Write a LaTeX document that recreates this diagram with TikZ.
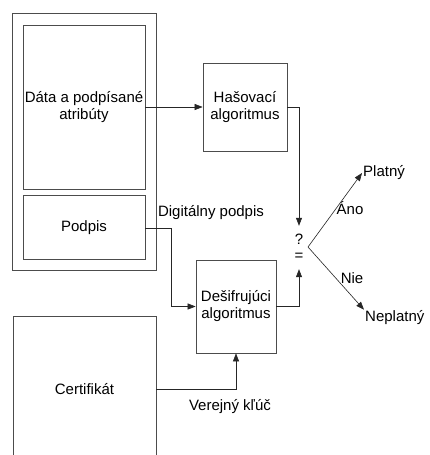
\documentclass[tikz,border=0pt]{standalone}
\usepackage{fontspec}
\setmainfont{Liberation Sans}
\usetikzlibrary{arrows.meta}
\begin{document}
\begin{tikzpicture}[x=1pt,y=-1pt,
  font=\fontsize{15}{17}\selectfont,
  box/.style={draw=black!70, line width=0.7pt, inner sep=0pt, align=center},
  lbl/.style={inner sep=1pt},
  conn/.style={draw=black!85, line width=0.6pt, -{Triangle[length=8pt,width=6pt]}},
  wire/.style={draw=black!85, line width=0.6pt}]
  \clip (0,0) rectangle (430,455);
  \fill[white] (0,0) rectangle (430,455);

  % document container with its two parts
  \node[box, minimum width=144, minimum height=257] (outer) at (84,141.5) {};
  \node[box, minimum width=122, minimum height=164] (data) at (84,107) {Dáta a podpísané\\atribúty};
  \node[box, minimum width=122, minimum height=64] (podpis) at (84,227.5) {Podpis};

  % processing blocks
  \node[box, minimum width=84, minimum height=88] (hash) at (245,107) {Hašovací\\algoritmus};
  \node[box, minimum width=80, minimum height=93] (desif) at (236,306.5) {Dešifrujúci\\algoritmus};
  \node[box, minimum width=143, minimum height=146] (cert) at (84.5,389) {Certifikát};

  % comparison
  \node[inner sep=0pt, minimum width=10, minimum height=43, align=center,
        font=\fontsize{15}{16}\selectfont] (q) at (299,247.5) {?\\=};
  \coordinate (v) at (308,247);
  \node[lbl, anchor=west] (plat) at (362,173) {Platný};
  \node[lbl, anchor=west] (nepl) at (364,318) {Neplatný};

  % labels
  \node[lbl] (dig) at (211,213) {Digitálny podpis};
  \node[lbl] (key) at (230,407) {Verejný kľúč};
  \node[lbl] (ano) at (350,208) {Áno};
  \node[lbl] (nie) at (352,278) {Nie};

  % connectors
  \coordinate (k1) at (171,228);
  \draw[conn] (data.east) -- (hash.west);
  \draw[conn] (hash.east) -| (q.north);
  \draw[conn] (podpis.east |- k1) -- (k1) |- (desif.west);
  \draw[conn] (desif.east) -| (q.south);
  \draw[conn] (cert.east) -| (desif.south);
  \draw[conn] (v) -- (plat.west);
  \draw[conn] (v) -- (nepl.north west);
\end{tikzpicture}
\end{document}
